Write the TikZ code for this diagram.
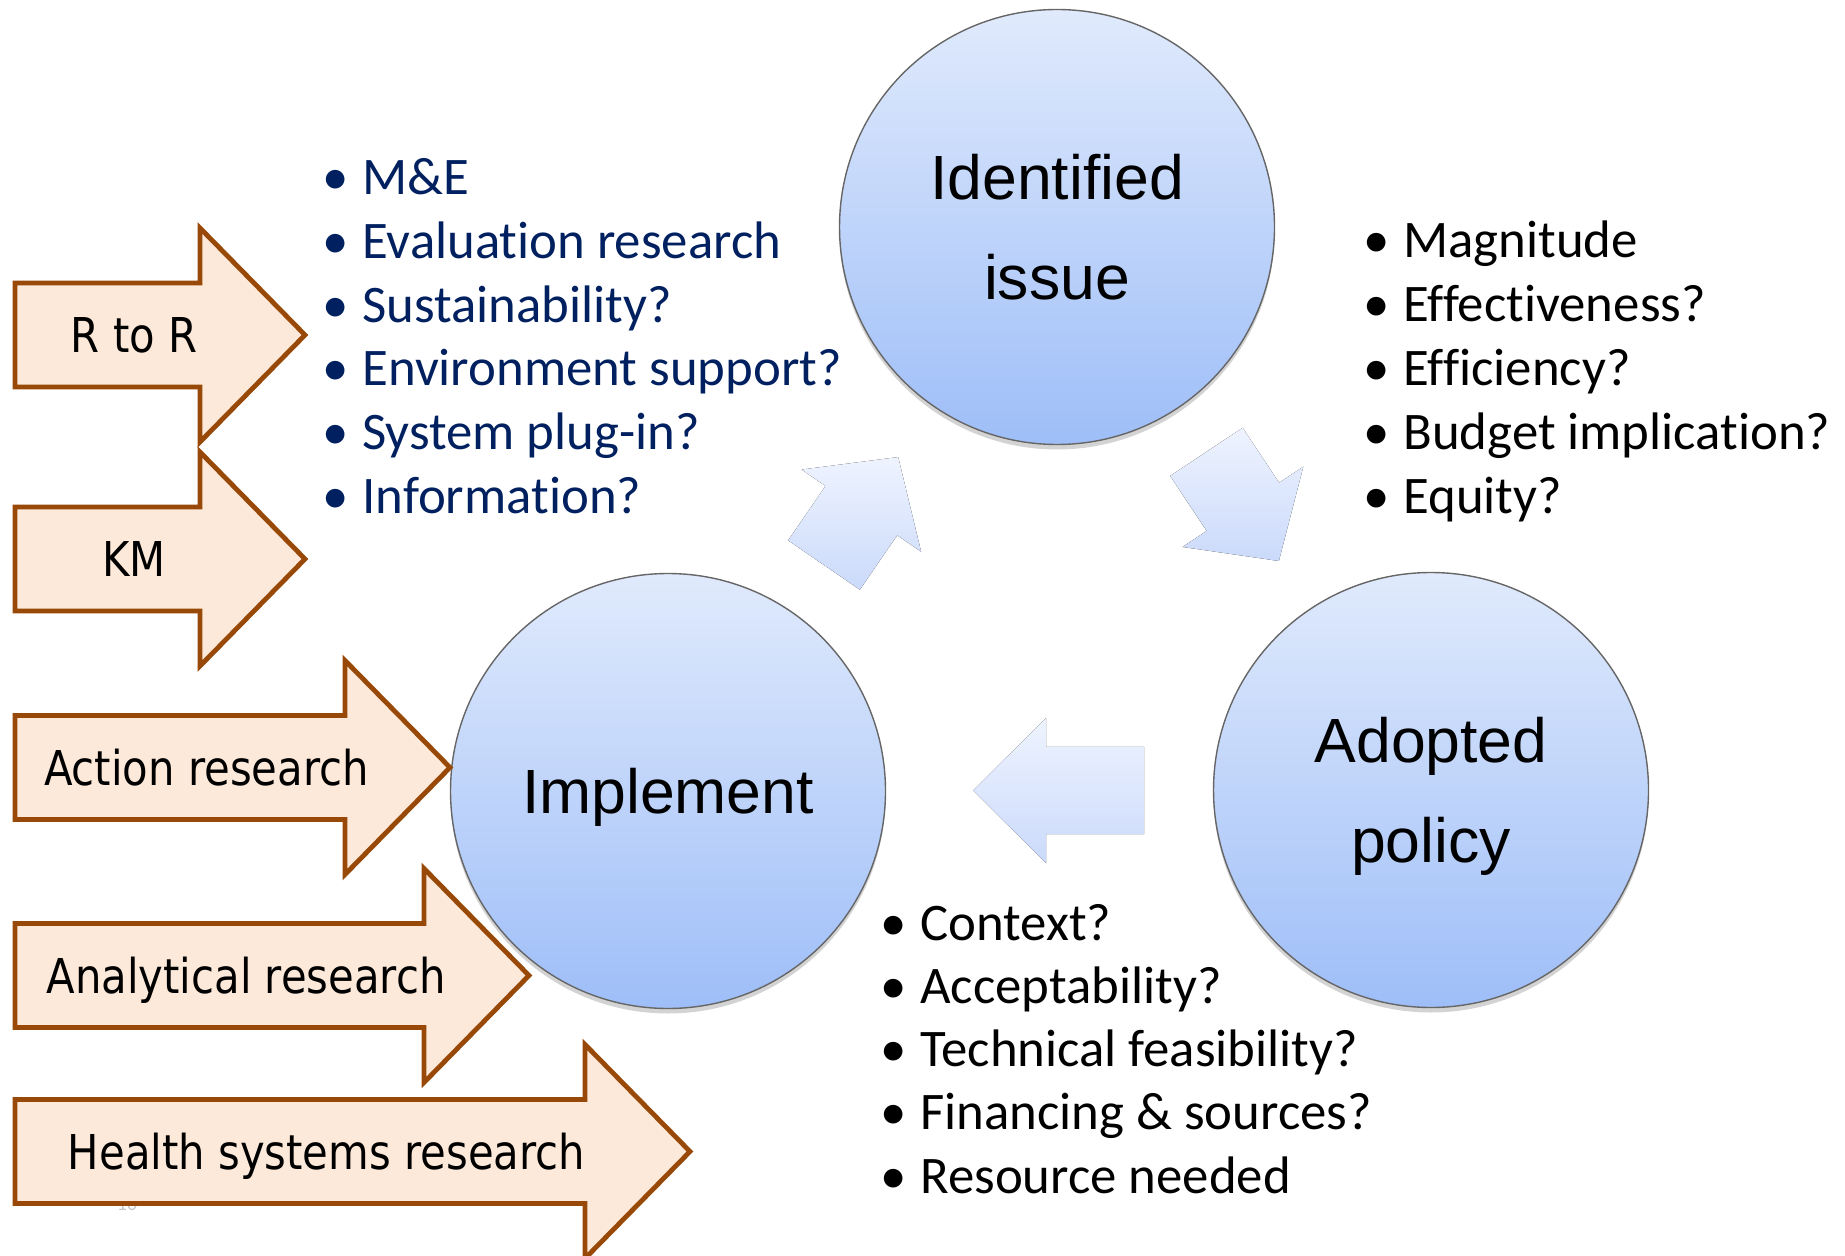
\documentclass[tikz,border=0pt]{standalone}
\usepackage{fontspec}
\setmainfont{Carlito}[Ligatures=NoCommon]
\newfontfamily\circfont{Liberation Sans}
\newfontfamily\arrowfont[FakeStretch=0.87]{DejaVu Sans}
\usepackage{tikz}
\usetikzlibrary{positioning, calc, shadows}
\definecolor{peach}{HTML}{FDE9D9}
\definecolor{rust}{HTML}{984807}
\definecolor{navy}{HTML}{002060}
\definecolor{circTop}{HTML}{E0EAFC}
\definecolor{circBot}{HTML}{9EBEF8}
\definecolor{flowTop}{HTML}{EEF3FE}
\definecolor{flowBot}{HTML}{CBDAFB}

\begin{document}
\begin{tikzpicture}[x=0.5pt, y=-0.5pt,
  stage/.style={circle, draw=black!60, line width=0.7pt, top color=circTop, bottom color=circBot,
    minimum size=217.5pt, inner sep=0pt, align=center, text depth=0pt,
    font=\circfont\fontsize{31.25}{50}\selectfont,
    drop shadow={opacity=0.35, shadow xshift=0pt, shadow yshift=-2.5pt}},
  flow/.style={top color=flowTop, bottom color=flowBot, draw=none},
  resarrow/.style={fill=peach, draw=rust, line width=2.4pt, line join=miter},
  restext/.style={anchor=base, inner sep=0pt, font=\arrowfont\fontsize{24}{24}\selectfont},
  bul/.style={anchor=base west, inner sep=0pt, font=\fontsize{26.4}{32}\selectfont}]

\useasboundingbox (0,0) rectangle (1845,1256);

% the three stages of the cycle
\node[stage] (issue) at (1057,227) {Identified\\issue};
\node[stage] (policy) at (1431,790) {Adopted\\policy};
\node[stage] (implement) at (668,791) {Implement};

% block arrows between the stages
\begin{scope}[shift={($(implement)!0.5!(issue)$)}, rotate=55.5]
  \fill[flow] (-68,-43.5) -- (-2,-43.5) -- (-2,-72.5) -- (63,0) -- (-2,72.5) -- (-2,43.5) -- (-68,43.5) -- cycle;
\end{scope}
\begin{scope}[shift={($(issue)!0.5!(policy)$)}, rotate=-56.4]
  \fill[flow] (-68,-43.5) -- (-2,-43.5) -- (-2,-72.5) -- (63,0) -- (-2,72.5) -- (-2,43.5) -- (-68,43.5) -- cycle;
\end{scope}
\begin{scope}[shift={($(policy)!0.5!(implement)$)}, rotate=180]
  \fill[flow] (-94.5,-43.7) -- (3.5,-43.7) -- (3.5,-72.5) -- (76.5,0) -- (3.5,72.5) -- (3.5,43.7) -- (-94.5,43.7) -- cycle;
\end{scope}

% slide number, mostly hidden by the bottom arrow
\node[text=gray!45, font=\fontsize{10}{10}\selectfont] (slideno) at (127,1204) {10};

% research arrows on the left
\foreach \nm/\cy/\hx/\txt in {rtor/335/200/R to R, km/559/200/KM, action/767.5/345/Action research,
    analytic/975.5/424/Analytical research, hsr/1151.5/585/Health systems research}{
  \draw[resarrow] (15,{\cy-52}) -- (\hx,{\cy-52}) -- (\hx,{\cy-107}) -- ({\hx+105},\cy)
    -- (\hx,{\cy+107}) -- (\hx,{\cy+52}) -- (15,{\cy+52}) -- cycle;
  \node[restext] (\nm) at ({(120+\hx)/2-26},{\cy+17.5}) {\txt};
}

% questions around the cycle
\foreach \txt [count=\i] in {M\&E, Evaluation research, Sustainability?, Environment support?, System plug-in?, Information?}
  \node[bul, text=navy] (evalq\i) at (362,{195+63.6*(\i-1)}) {\llap{\textbullet\hspace{7pt}}\txt};
\foreach \txt [count=\i] in {Magnitude, Effectiveness?, Efficiency?, Budget implication?, Equity?}
  \node[bul] (policyq\i) at (1403,{258+63.75*(\i-1)}) {\llap{\textbullet\hspace{7pt}}\txt};
\foreach \txt [count=\i] in {Context?, Acceptability?, Technical feasibility?, Financing \& sources?, Resource needed}
  \node[bul] (implq\i) at (920,{940+63.25*(\i-1)}) {\llap{\textbullet\hspace{7pt}}\txt};
\end{tikzpicture}
\end{document}
